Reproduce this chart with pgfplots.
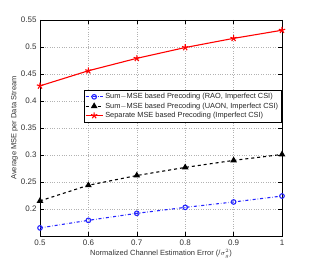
\documentclass[border=0pt]{standalone}
\usepackage{pgfplots}
\pgfplotsset{compat=1.18}
\usepackage{fontspec}
\setmainfont{Liberation Sans}
\begin{document}
\begin{tikzpicture}
\begin{axis}[
  scale only axis, width=242pt, height=216pt,
  xmin=0.5, xmax=1, ymin=0.15, ymax=0.55,
  xtick={0.5,0.6,0.7,0.8,0.9,1},
  ytick={0.2,0.25,0.3,0.35,0.4,0.45,0.5,0.55},
  xticklabels={0.5,0.6,0.7,0.8,0.9,1},
  yticklabels={0.2,0.25,0.3,0.35,0.4,0.45,0.5,0.55},
  tick label style={font=\fontsize{8}{9}\selectfont, text=black!80},
  label style={font=\fontsize{7.5}{8}\selectfont, text=black!80},
  xlabel={Normalized Channel Estimation Error (/$\sigma_{g}^{2}$)},
  ylabel={Average MSE per Data Stream},
  xlabel style={yshift=3pt},
  ylabel style={yshift=-4pt},
  grid=major, grid style={dotted, gray!60},
  tick align=inside, tick style={black, thin},
  axis line style={black, thin},
  legend style={at={(rel axis cs:0.997,0.675)}, anchor=north east,
    font=\fontsize{7.4}{8.5}\selectfont, draw=black, thin,
    inner sep=1pt, row sep=-1.5pt, text=black!85},
  legend cell align=left,
]
\addplot[blue!85!white, dashdotted, line width=1.1pt, mark=o, mark options={solid, line width=1.1pt}, mark size=2.3pt]
 coordinates {(0.5,0.165) (0.6,0.179) (0.7,0.192) (0.8,0.203) (0.9,0.213) (1,0.224)};
\addlegendentry{Sum$-$MSE based Precoding (RAO, Imperfect CSI)}
\addplot[black, dashed, line width=1.1pt, mark=triangle*, mark options={solid}, mark size=2.8pt]
 coordinates {(0.5,0.215) (0.6,0.244) (0.7,0.262) (0.8,0.277) (0.9,0.290) (1,0.301)};
\addlegendentry{Sum$-$MSE based Precoding (UAON, Imperfect CSI)}
\addplot[red, line width=1.1pt, mark=star, mark options={solid, fill=red}, mark size=3.3pt]
 coordinates {(0.5,0.428) (0.6,0.456) (0.7,0.479) (0.8,0.499) (0.9,0.516) (1,0.531)};
\addlegendentry{Separate MSE based Precoding (Imperfect CSI)}
\end{axis}
\path (current axis.south west) ++(-40pt,-30pt) coordinate (bbl);
\path (current axis.north east) ++(30pt,20pt) coordinate (bbr);
\path (bbl) rectangle (bbr);
\end{tikzpicture}
\end{document}
